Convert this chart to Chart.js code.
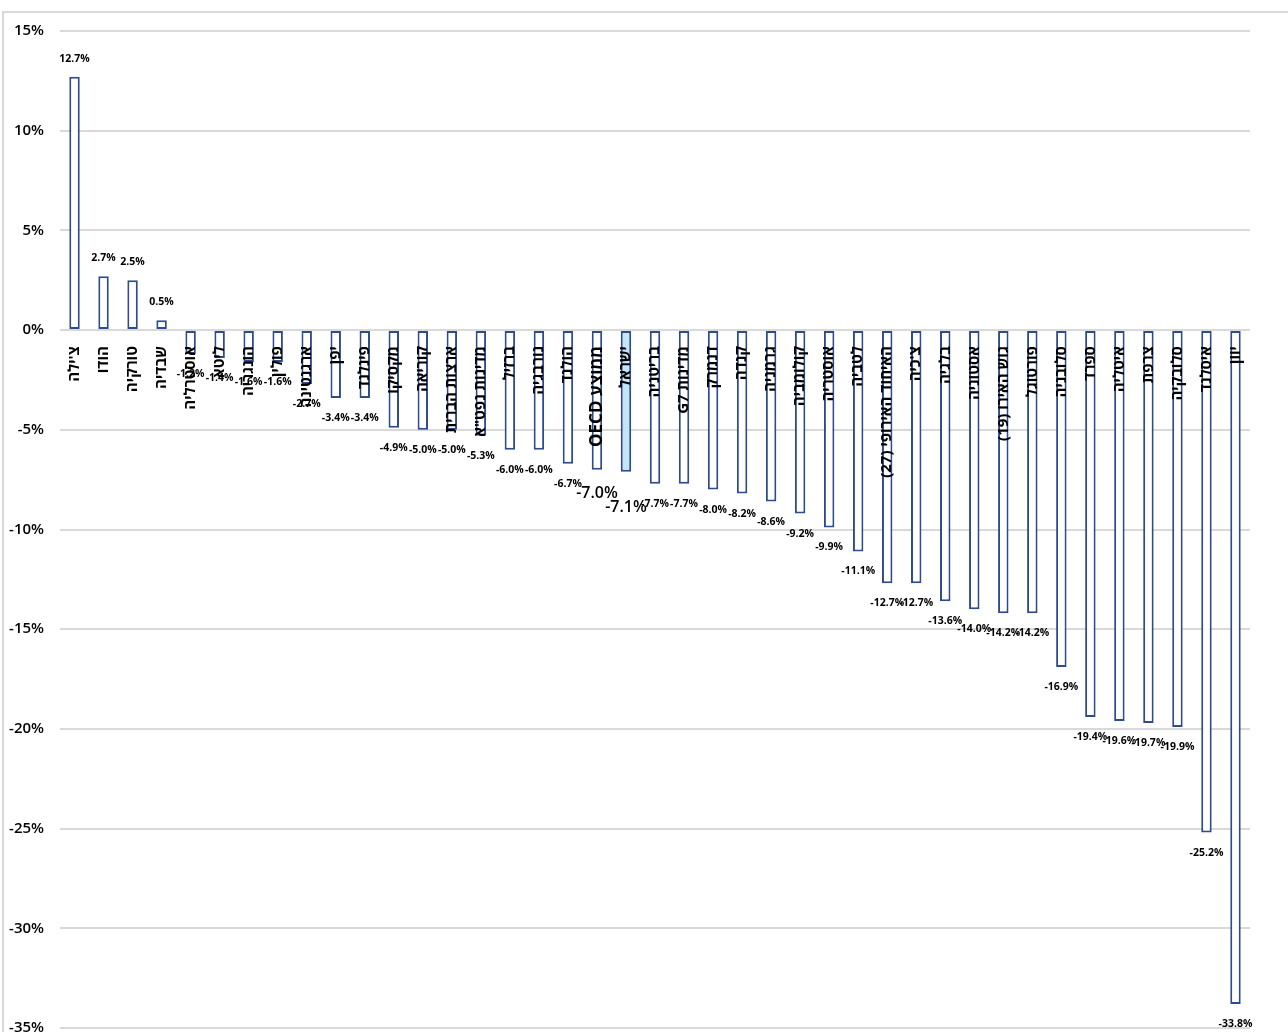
<!DOCTYPE html>
<html lang="he">
<head>
<meta charset="utf-8">
<script src="https://cdn.jsdelivr.net/npm/chart.js@4.4.1/dist/chart.umd.min.js"></script>
<style>
  html,body{margin:0;padding:0;background:#fff;overflow:hidden;}
  canvas{display:block;}
</style>
</head>
<body>
<canvas id="chart" width="1288" height="1053"></canvas>
<script>
const countries = [
  "צ'ילה","הודו","טורקיה","שבדיה","אוסטרליה","ליטא","הונגריה","פולין","ארגנטינה","יפן",
  "פינלנד","מקסיקו","קוריאה","ארצות הברית",'מדינות נפט"א',"ברזיל","נורבגיה","הולנד","ממוצע OECD","ישראל",
  "בריטניה","מדינות G7","דנמרק","קנדה","גרמניה","קולומביה","אוסטריה","לטביה","האיחוד האירופי (27)","צ'כיה",
  "בלגיה","אסטוניה","גוש האירו (19)","פורטוגל","סלובניה","ספרד","איטליה","צרפת","סלובקיה","איסלנד","יוון"
];
const change = [
  12.7, 2.7, 2.5, 0.5, -1.2, -1.4, -1.6, -1.6, -2.7, -3.4,
  -3.4, -4.9, -5.0, -5.0, -5.3, -6.0, -6.0, -6.7, -7.0, -7.1,
  -7.7, -7.7, -8.0, -8.2, -8.6, -9.2, -9.9, -11.1, -12.7, -12.7,
  -13.6, -14.0, -14.2, -14.2, -16.9, -19.4, -19.6, -19.7, -19.9, -25.2, -33.8
];
const yMin = -35, yMax = 15, yStep = 5;

const highlight = "ישראל";
const bigLabels = {"ישראל": 36, "ממוצע OECD": 24};
const navy = "#2E4B8B";
const font = "'Open Sans','DejaVu Sans',sans-serif";

/* מסגרת */
const frame = {
  id: "frame",
  beforeDraw(chart){
    const c = chart.ctx;
    c.save();
    c.strokeStyle = "#D9D9D9";
    c.lineWidth = 2;
    c.strokeRect(3, 12, 1400, 1200);
    c.restore();
  }
};

/* תוויות נתונים */
const valueLabels = {
  id: "valueLabels",
  afterDatasetsDraw(chart){
    const c = chart.ctx;
    const meta = chart.getDatasetMeta(0);
    c.save();
    c.direction = "ltr";
    c.textAlign = "center";
    c.textBaseline = "middle";
    c.fillStyle = "#000";
    meta.data.forEach((bar, i) => {
      const v = change[i];
      const name = countries[i];
      let dy = v >= 0 ? -18 : 20;
      if (bigLabels[name]) {
        c.font = "600 16px " + font;
        dy = bigLabels[name];
      } else {
        c.font = "700 10.5px " + font;
      }
      c.fillText(v.toFixed(1) + "%", bar.x, bar.y + dy);
    });
    c.restore();
  }
};

new Chart(document.getElementById("chart"), {
  type: "bar",
  data: {
    labels: countries,
    datasets: [{
      data: change,
      backgroundColor: ctx => countries[ctx.index] === highlight ? "#C3E6F6" : "#FFFFFF",
      borderColor: navy,
      borderWidth: 2,
      borderSkipped: false,
      barPercentage: 0.72,
      categoryPercentage: 0.5
    }]
  },
  options: {
    responsive: false,
    animation: false,
    layout: {padding: {top: 31, bottom: 13, left: 0, right: 38}},
    plugins: {legend: {display: false}, tooltip: {enabled: false}},
    scales: {
      x: {
        position: {y: 0},
        grid: {display: false},
        border: {display: false},
        ticks: {
          z: 1,
          autoSkip: false,
          maxRotation: 90,
          minRotation: 90,
          padding: 8,
          color: "#000",
          font: ctx => countries[ctx.index] === "ממוצע OECD"
            ? {family: font, size: 17, weight: "700"}
            : {family: font, size: 15, weight: "700"},
          callback: (v, i) => "\u202B" + countries[i] + "\u202C"
        }
      },
      y: {
        min: yMin,
        max: yMax,
        afterFit: s => { s.width = 60; },
        grid: {color: "#D9D9D9", lineWidth: 2, drawTicks: false},
        border: {display: false},
        ticks: {
          stepSize: yStep,
          padding: 16,
          color: "#000",
          font: {family: font, size: 15, weight: "600"},
          callback: v => v + "%"
        }
      }
    }
  },
  plugins: [frame, valueLabels]
});
</script>
</body>
</html>
